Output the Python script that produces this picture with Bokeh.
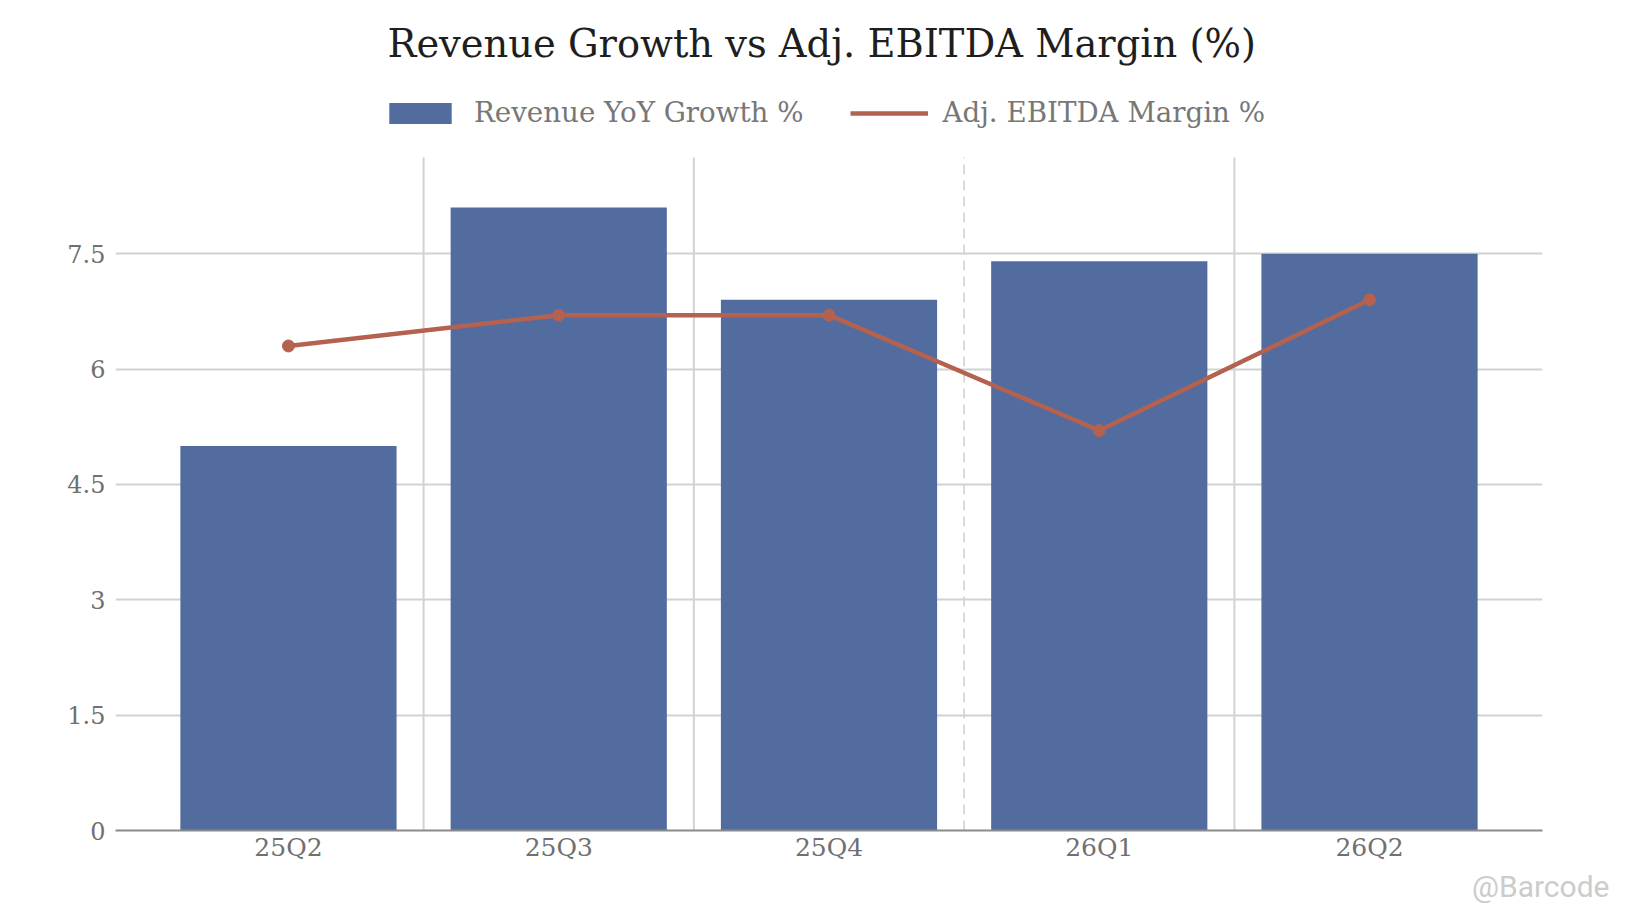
from bokeh.embed import file_html
from bokeh.resources import INLINE
from bokeh.plotting import figure
from bokeh.models import (ColumnDataSource, FactorRange, Range1d, FixedTicker,
                          Legend, LegendItem, Title)

# data
quarters = ["25Q2", "25Q3", "25Q4", "26Q1", "26Q2"]
revenue_growth = [5.0, 8.1, 6.9, 7.4, 7.5]
ebitda_margin = [6.3, 6.7, 6.7, 5.2, 6.9]
y_ticks = [0, 1.5, 3, 4.5, 6, 7.5]
y_tick_labels = ["0", "1.5", "3", "4.5", "6", "7.5"]
y_max = 8.75  # top of the value axis

FONT = "DejaVu Serif"
BLUE = "#536c9f"
RED = "#b5614f"
GRID = "#d2d2d2"

W, H = 1633, 915
TOP, BOTTOM, LEFT, RIGHT = 78, 830, 115, 1542   # frame edges in px
GRID_TOP = 157                                     # where the value axis ends
y_end = y_max * (BOTTOM - TOP) / (BOTTOM - GRID_TOP)  # extra room for the legend

source = ColumnDataSource(data=dict(quarter=quarters, revenue=revenue_growth,
                                    margin=ebitda_margin))

p = figure(width=W, height=H,
           x_range=FactorRange(factors=quarters, range_padding=0.14,
                               range_padding_units="absolute"),
           y_range=Range1d(0, y_end),
           output_backend="svg", toolbar_location=None, tools="",
           min_border_left=LEFT, min_border_right=W - RIGHT,
           min_border_top=TOP, min_border_bottom=H - BOTTOM)

p.title.text = "Revenue Growth vs Adj. EBITDA Margin (%)"
p.title.align = "left"
p.title.offset = 272
p.title.text_font = FONT
p.title.text_font_size = "38.4px"
p.title.text_font_style = "normal"
p.title.text_color = "#1e1e1e"
p.title.standoff = 26

# vertical separators between quarters, dashed where the year changes
solid_x, dashed_x = [], []
for i in range(1, len(quarters)):
    (dashed_x if quarters[i][:2] != quarters[i - 1][:2] else solid_x).append(i)
p.segment(x0=solid_x, y0=0, x1=solid_x, y1=y_max, line_color=GRID,
          line_width=2, level="underlay")
p.segment(x0=dashed_x, y0=0, x1=dashed_x, y1=y_max, line_color="#cfcfcf",
          line_width=1.5, line_dash="10 6", level="underlay")

bars = p.vbar(x="quarter", top="revenue", width=0.8, source=source,
              fill_color=BLUE, line_color=None)
margin_line = p.line(x="quarter", y="margin", source=source, line_width=4.5, color=RED)
p.scatter(x="quarter", y="margin", source=source, size=12, color=RED)

p.xgrid.visible = False
p.ygrid.ticker = FixedTicker(ticks=y_ticks)
p.ygrid.grid_line_color = GRID
p.ygrid.grid_line_width = 2
p.outline_line_color = None

p.yaxis.ticker = FixedTicker(ticks=y_ticks)
p.yaxis.major_label_overrides = dict(zip(y_ticks, y_tick_labels))
p.yaxis.axis_line_color = None
p.yaxis.major_label_standoff = 10
p.yaxis.major_label_text_font_size = "24px"

p.xaxis.axis_line_color = "#8a8a8a"
p.xaxis.axis_line_width = 2
p.xaxis.major_label_standoff = 2
p.xaxis.major_label_text_font_size = "25px"

for ax in (p.xaxis, p.yaxis):
    ax.major_tick_line_color = None
    ax.minor_tick_line_color = None
    ax.major_tick_out = 0
    ax.major_tick_in = 0
    ax.major_label_text_font = FONT
    ax.major_label_text_color = "#707070"

legend = Legend(items=[LegendItem(label="Revenue YoY Growth %", renderers=[bars]),
                       LegendItem(label="Adj. EBITDA Margin %", renderers=[margin_line])],
                orientation="horizontal", location=(266, 701),
                label_text_font=FONT, label_text_font_size="27.7px",
                label_text_color="#777777", glyph_width=78, glyph_height=26,
                label_standoff=15, spacing=46, margin=0, padding=0,
                border_line_color=None, background_fill_alpha=0)
p.add_layout(legend)

# watermark under the chart
p.add_layout(Title(text="@Barcode", align="right", offset=-67, text_font="Roboto",
                   text_font_size="30px", text_font_style="normal",
                   text_color="#cccccc", standoff=4), "below")

open("out.html", "w").write(file_html(p, INLINE))
